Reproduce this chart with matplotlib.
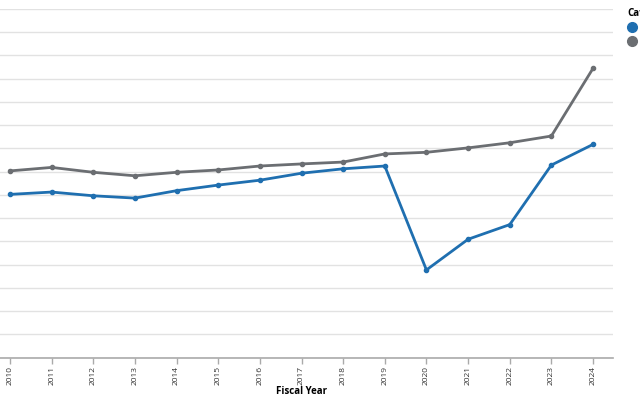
import matplotlib
matplotlib.use("Agg")
import matplotlib.pyplot as plt
from matplotlib.lines import Line2D

# Fiscal years and the two series (y axis labels are cropped off in the source)
years = [2010, 2011, 2012, 2013, 2014, 2015, 2016, 2017, 2018, 2019,
         2020, 2021, 2022, 2023, 2024]
series_blue = [7.02, 7.12, 6.96, 6.86, 7.18, 7.42, 7.63, 7.93, 8.12, 8.24,
               3.77, 5.09, 5.72, 8.28, 9.17]
series_grey = [8.03, 8.18, 7.97, 7.82, 7.97, 8.07, 8.24, 8.33, 8.41, 8.76,
               8.83, 9.02, 9.24, 9.53, 12.44]
series_names = ["Actual", "Budget"]
colors = ["#1f6fb0", "#6b6e72"]

plt.rcParams['font.family'] = ['Open Sans', 'DejaVu Sans']

fig = plt.figure(figsize=(6.4, 4.0), dpi=100)
# axes run past the left edge, so the y labels fall outside the picture
ax = fig.add_axes([-10 / 640, (400 - 357.6) / 400, 623 / 640, 348.75 / 400])

for vals, c in zip([series_blue, series_grey], colors):
    ax.plot(years, vals, color=c, lw=2.0, marker='o', ms=3.0,
            solid_joinstyle='round', zorder=3)

ax.set_xlim(2009.52, 2024.48)
ax.set_ylim(0, 15)
ax.set_yticks(range(0, 16))
ax.set_xticks(years)
ax.set_xticklabels([str(y) for y in years], rotation=90, fontsize=6,
                   color='#333333')
ax.grid(axis='y', color='#e2e2e2', lw=1, zorder=0)
for s in ['top', 'right', 'left']:
    ax.spines[s].set_visible(False)
ax.spines['bottom'].set_color('#aaaaaa')
ax.spines['bottom'].set_linewidth(1.2)
ax.tick_params(axis='x', length=4, width=1, color='#aaaaaa', pad=2)
ax.tick_params(axis='y', length=0)
ax.set_xlabel('Fiscal Year', fontsize=7, fontweight='bold', labelpad=1)

handles = [Line2D([], [], marker='o', ls='', color=c, ms=7) for c in colors]
leg = fig.legend(handles, series_names, title='Category', loc='upper left',
                 bbox_to_anchor=(623 / 640, 1 - 3 / 400), frameon=False,
                 fontsize=7, title_fontsize=7, handlelength=0.8,
                 handletextpad=0.5, labelspacing=0.35, borderpad=0,
                 alignment='left')
leg.get_title().set_fontweight('bold')

fig.savefig('out.png', dpi=100)
